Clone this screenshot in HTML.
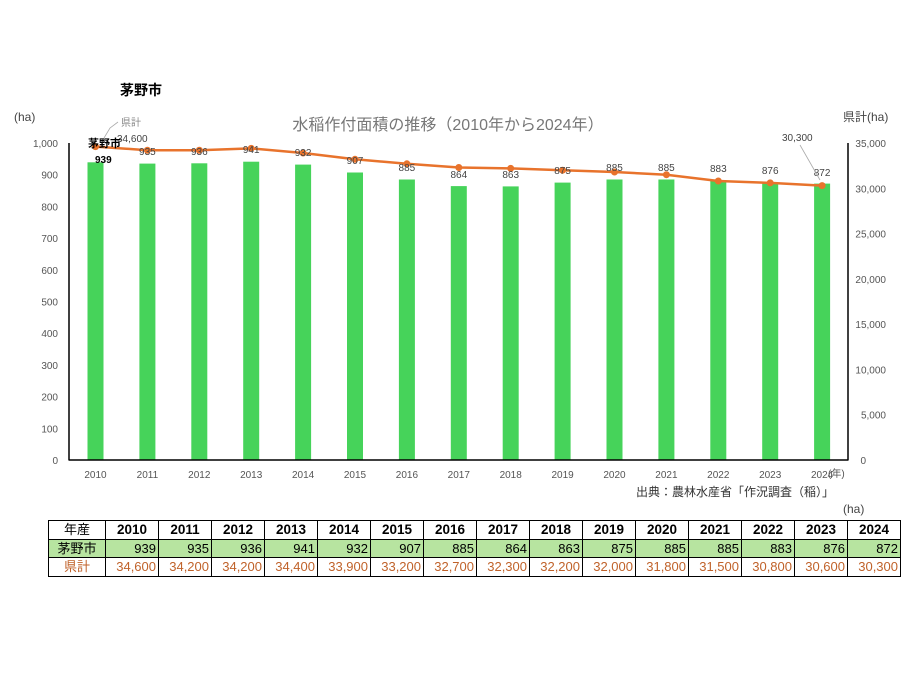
<!DOCTYPE html>
<html><head><meta charset="utf-8"><style>
body{margin:0;background:#fff;width:919px;height:690px;overflow:hidden;font-family:"Liberation Sans","Noto Sans CJK JP",sans-serif}
svg{position:absolute;left:0;top:0}
table{position:absolute;left:48px;top:520px;border-collapse:collapse;font-family:"Liberation Sans","Noto Sans CJK JP",sans-serif}
td{border:1.5px solid #000;height:17.5px;padding:0 2px;font-size:13px;line-height:17px}
td.h{width:52px;text-align:center}
td.y{width:48px;text-align:center;font-weight:bold;font-size:13.5px}
td.n{text-align:right}
tr.g td{background:#b7e4a0}
tr.o td{color:#c0622a}
</style></head><body>
<svg width="919" height="690" font-family="Liberation Sans, Noto Sans CJK JP, sans-serif">
<text x="120" y="95" font-size="14" font-weight="bold">茅野市</text>
<text x="14" y="121" font-size="12" fill="#444">(ha)</text>
<text x="448" y="130" font-size="16" fill="#777" text-anchor="middle">水稲作付面積の推移（2010年から2024年）</text>
<text x="843" y="121" font-size="12" fill="#444">県計(ha)</text>
<g font-size="10" fill="#555" text-anchor="end">
<text x="58" y="147">1,000</text><text x="58" y="178.7">900</text><text x="58" y="210.4">800</text><text x="58" y="242.1">700</text><text x="58" y="273.8">600</text><text x="58" y="305.5">500</text><text x="58" y="337.2">400</text><text x="58" y="368.9">300</text><text x="58" y="400.6">200</text><text x="58" y="432.3">100</text><text x="58" y="464">0</text>
</g>
<g font-size="10" fill="#555" text-anchor="end">
<text x="886" y="147">35,000</text><text x="886" y="192.3">30,000</text><text x="886" y="237.6">25,000</text><text x="886" y="282.9">20,000</text><text x="886" y="328.1">15,000</text><text x="886" y="373.4">10,000</text><text x="886" y="418.7">5,000</text><text x="866" y="464">0</text>
</g>
<g fill="#46d35a">
<rect x="87.5" y="162.3" width="16" height="297.7"/><rect x="139.4" y="163.6" width="16" height="296.4"/><rect x="191.3" y="163.3" width="16" height="296.7"/><rect x="243.2" y="161.7" width="16" height="298.3"/><rect x="295.1" y="164.6" width="16" height="295.4"/><rect x="347" y="172.5" width="16" height="287.5"/><rect x="398.9" y="179.5" width="16" height="280.5"/><rect x="450.8" y="186.1" width="16" height="273.9"/><rect x="502.7" y="186.4" width="16" height="273.6"/><rect x="554.6" y="182.6" width="16" height="277.4"/><rect x="606.5" y="179.5" width="16" height="280.5"/><rect x="658.4" y="179.5" width="16" height="280.5"/><rect x="710.3" y="180.1" width="16" height="279.9"/><rect x="762.2" y="182.3" width="16" height="277.7"/><rect x="814.1" y="183.6" width="16" height="276.4"/>
</g>
<line x1="69" y1="143" x2="69" y2="460.5" stroke="#000" stroke-width="1.5"/>
<line x1="848" y1="143" x2="848" y2="460.5" stroke="#000" stroke-width="1.5"/>
<line x1="69" y1="460" x2="848" y2="460" stroke="#000" stroke-width="1.5"/>
<polyline fill="none" stroke="#e8732c" stroke-width="2.5" points="95.5,146.6 147.4,150.2 199.3,150.2 251.2,148.4 303.1,153 355,159.3 406.9,163.8 458.8,167.5 510.7,168.4 562.6,170.2 614.5,172 666.4,174.7 718.3,181 770.2,182.9 822.1,185.6"/>
<g fill="#e8732c">
<circle cx="95.5" cy="146.6" r="3.5"/><circle cx="147.4" cy="150.2" r="3.5"/><circle cx="199.3" cy="150.2" r="3.5"/><circle cx="251.2" cy="148.4" r="3.5"/><circle cx="303.1" cy="153" r="3.5"/><circle cx="355" cy="159.3" r="3.5"/><circle cx="406.9" cy="163.8" r="3.5"/><circle cx="458.8" cy="167.5" r="3.5"/><circle cx="510.7" cy="168.4" r="3.5"/><circle cx="562.6" cy="170.2" r="3.5"/><circle cx="614.5" cy="172" r="3.5"/><circle cx="666.4" cy="174.7" r="3.5"/><circle cx="718.3" cy="181" r="3.5"/><circle cx="770.2" cy="182.9" r="3.5"/><circle cx="822.1" cy="185.6" r="3.5"/>
</g>
<g font-size="10" fill="#444" text-anchor="middle">
<text x="147.4" y="155">935</text><text x="199.3" y="155">936</text><text x="251.2" y="153">941</text><text x="303.1" y="156">932</text><text x="355" y="164">907</text><text x="406.9" y="171">885</text><text x="458.8" y="178">864</text><text x="510.7" y="178">863</text><text x="562.6" y="174">875</text><text x="614.5" y="171">885</text><text x="666.4" y="171">885</text><text x="718.3" y="172">883</text><text x="770.2" y="174">876</text><text x="822.1" y="176">872</text>
</g>
<text x="88" y="147" font-size="11" font-weight="bold">茅野市</text>
<text x="95" y="163" font-size="10" font-weight="bold">939</text>
<text x="117" y="142" font-size="10" fill="#444">34,600</text>
<text x="121" y="126" font-size="10" fill="#888">県計</text>
<polyline points="118,122 110,128 104,138" fill="none" stroke="#aaa" stroke-width="0.8"/>
<text x="782" y="141" font-size="10" fill="#444">30,300</text>
<line x1="800" y1="145" x2="820" y2="180" stroke="#aaa" stroke-width="0.8"/>
<g font-size="10" fill="#555" text-anchor="middle">
<text x="95.5" y="478">2010</text><text x="147.4" y="478">2011</text><text x="199.3" y="478">2012</text><text x="251.2" y="478">2013</text><text x="303.1" y="478">2014</text><text x="355" y="478">2015</text><text x="406.9" y="478">2016</text><text x="458.8" y="478">2017</text><text x="510.7" y="478">2018</text><text x="562.6" y="478">2019</text><text x="614.5" y="478">2020</text><text x="666.4" y="478">2021</text><text x="718.3" y="478">2022</text><text x="770.2" y="478">2023</text><text x="822.1" y="478">2024</text>
</g>
<text x="828" y="477" font-size="10" fill="#555">(年)</text>
<text x="636" y="496" font-size="12" fill="#333">出典：農林水産省「作況調査（稲）」</text>
<text x="843" y="513" font-size="12" fill="#444">(ha)</text>
</svg>
<table>
<tr><td class="h">年産</td><td class="y">2010</td><td class="y">2011</td><td class="y">2012</td><td class="y">2013</td><td class="y">2014</td><td class="y">2015</td><td class="y">2016</td><td class="y">2017</td><td class="y">2018</td><td class="y">2019</td><td class="y">2020</td><td class="y">2021</td><td class="y">2022</td><td class="y">2023</td><td class="y">2024</td></tr>
<tr class="g"><td class="h">茅野市</td><td class="n">939</td><td class="n">935</td><td class="n">936</td><td class="n">941</td><td class="n">932</td><td class="n">907</td><td class="n">885</td><td class="n">864</td><td class="n">863</td><td class="n">875</td><td class="n">885</td><td class="n">885</td><td class="n">883</td><td class="n">876</td><td class="n">872</td></tr>
<tr class="o"><td class="h">県計</td><td class="n">34,600</td><td class="n">34,200</td><td class="n">34,200</td><td class="n">34,400</td><td class="n">33,900</td><td class="n">33,200</td><td class="n">32,700</td><td class="n">32,300</td><td class="n">32,200</td><td class="n">32,000</td><td class="n">31,800</td><td class="n">31,500</td><td class="n">30,800</td><td class="n">30,600</td><td class="n">30,300</td></tr>
</table>
</body></html>
